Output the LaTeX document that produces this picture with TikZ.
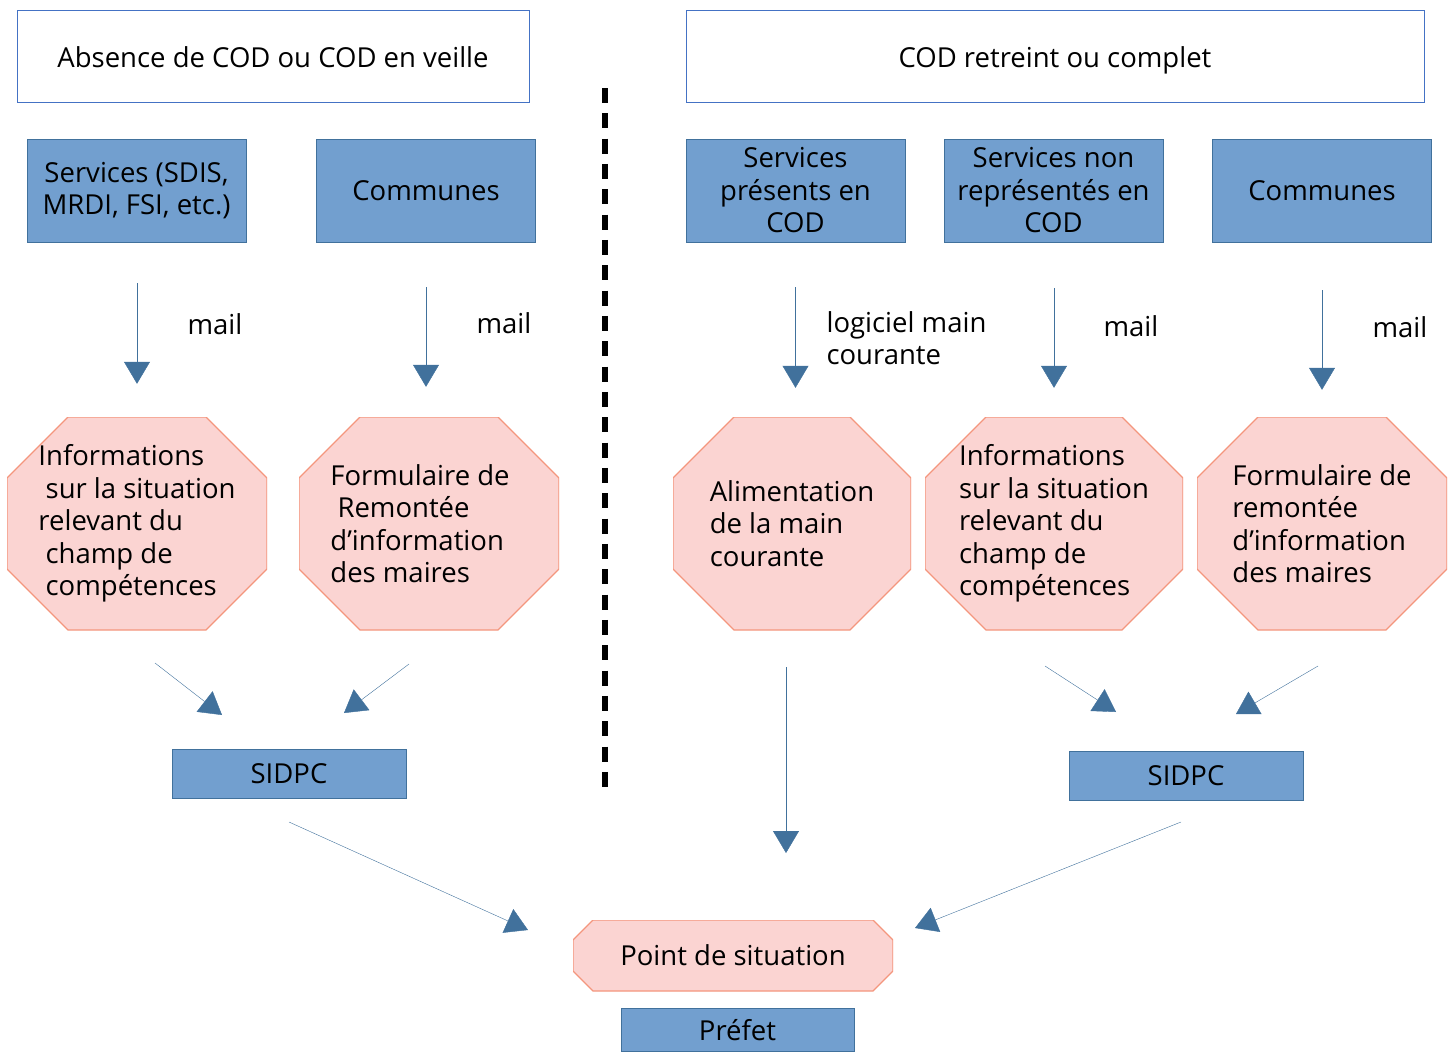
\documentclass[tikz,border=0pt]{standalone}
\usepackage{fontspec}
\setmainfont{Open Sans}
\usetikzlibrary{positioning,arrows.meta}
\definecolor{boxblue}{RGB}{114,159,207}
\definecolor{edgeblue}{RGB}{65,113,156}
\definecolor{topedge}{RGB}{68,114,196}
\definecolor{octofill}{RGB}{251,212,210}
\definecolor{octoedge}{RGB}{244,150,125}
\definecolor{arrowblue}{RGB}{65,113,156}

\begin{document}
\begin{tikzpicture}[x=1pt,y=-1pt,
  txt/.style={font=\fontsize{27.5}{32.5}\selectfont},
  topbox/.style={rectangle,draw=topedge,fill=white,txt,inner sep=0pt,minimum height=92pt,text height=24pt,text depth=2pt},
  box/.style={rectangle,draw=edgeblue,fill=boxblue,txt,align=center,inner sep=0pt,minimum width=219pt,minimum height=103pt},
  octocut/.store in=\octocut, octocut=61pt,
  octo/.style={rectangle,txt,align=left,inner sep=0pt,minimum height=213pt,
    path picture={\draw[draw=octoedge,fill=octofill,line width=1.2pt]
      ([xshift=\octocut]path picture bounding box.north west) -- ([xshift=-\octocut]path picture bounding box.north east)
      -- ([yshift=-\octocut]path picture bounding box.north east) -- ([yshift=\octocut]path picture bounding box.south east)
      -- ([xshift=-\octocut]path picture bounding box.south east) -- ([xshift=\octocut]path picture bounding box.south west)
      -- ([yshift=\octocut]path picture bounding box.south west) -- ([yshift=-\octocut]path picture bounding box.north west) -- cycle;}},
  flow/.style={draw=arrowblue,-{Triangle[width=26pt,length=22pt]}}]
	\useasboundingbox (0,0) rectangle (1453,1052);
	% en-tetes
	\node[topbox,minimum width=512pt] (absent) at (273,56) {Absence de COD ou COD en veille};
	\node[topbox,minimum width=738pt] (actif) at (1055,56) {COD retreint ou complet};
	% emetteurs
	\node[box] (srvA) at (136.5,190.5) {Services (SDIS,\\MRDI, FSI, etc.)};
	\node[box] (comA) at (426,190.5) {Communes};
	\node[box] (srvB) at (795.5,190.5) {Services\\présents en\\COD};
	\node[box] (srvC) at (1053.5,190.5) {Services non\\représentés en\\COD};
	\node[box] (comB) at (1322,190.5) {Communes};
	% informations
	\node[octo,minimum width=260pt] (infoA) at (137,523.5) {Informations\\\ sur la situation\\relevant du\\\ champ de\\\ compétences};
	\node[octo,minimum width=260pt] (formA) at (429,523.5) {Formulaire de\hspace*{18pt}\\\ Remontée\\d’information\\des maires};
	\node[octo,minimum width=238pt] (alim) at (792,523.5) {Alimentation\\de la main\\courante};
	\node[octo,minimum width=258pt] (infoB) at (1054,523.5) {Informations\\sur la situation\\relevant du\\champ de\\compétences};
	\node[octo,minimum width=250pt] (formB) at (1322,523.5) {Formulaire de\\remontée\\d’information\\des maires};
	% synthese
	\node[box,minimum width=234pt,minimum height=49pt] (sidpcA) at (289,773.5) {SIDPC};
	\node[box,minimum width=234pt,minimum height=49pt] (sidpcB) at (1186,775.5) {SIDPC};
	\node[octo,octocut=20pt,minimum width=320pt,minimum height=71pt] (point) at (733,955.5) {Point de situation};
	\node[box,minimum width=233pt,minimum height=43pt] (prefet) at (737.5,1030) {Préfet};
	% canaux
	\draw[flow,shorten <=41pt,shorten >=33pt] (srvA.south -| infoA.north) -- (infoA.north);
	\draw[flow,shorten <=45pt,shorten >=30pt] (comA.south) -- (comA.south |- formA.north);
	\draw[flow,shorten <=45pt,shorten >=29pt] (srvB.south) -- (srvB.south |- alim.north);
	\draw[flow,shorten <=46pt,shorten >=29pt] (srvC.south -| infoB.north) -- (infoB.north);
	\draw[flow,shorten <=48pt,shorten >=27pt] (comB.south) -- (formB.north);
	\node[txt,anchor=west] (mailA) at (184,324) {mail};
	\node[txt,anchor=west] (mailB) at (473,323) {mail};
	\node[txt,anchor=west,align=left] (logiciel) at (823,338) {logiciel main\\courante};
	\node[txt,anchor=west] (mailC) at (1100,326) {mail};
	\node[txt,anchor=west] (mailD) at (1369,327) {mail};
	% vers le SIDPC et le prefet
	\coordinate (d1) at (155,663); \coordinate (d2) at (222,715);
	\coordinate (d3) at (409,664); \coordinate (d4) at (344,713);
	\coordinate (d5) at (1045,666); \coordinate (d6) at (1116,712);
	\coordinate (d7) at (1318,666); \coordinate (d8) at (1236,714);
	\coordinate (d9) at (289,822); \coordinate (d10) at (528,930);
	\coordinate (d11) at (786,667); \coordinate (d12) at (786,853);
	\coordinate (d13) at (1181,822); \coordinate (d14) at (915,928);
	\draw[flow] (d1) -- (d2);
	\draw[flow] (d3) -- (d4);
	\draw[flow] (d5) -- (d6);
	\draw[flow] (d7) -- (d8);
	\draw[flow] (d9) -- (d10);
	\draw[flow] (d11) -- (d12);
	\draw[flow] (d13) -- (d14);
	% separation
	\draw[line width=6pt,dash pattern=on 15pt off 10.33pt] (605,88) -- (605,787);
\end{tikzpicture}
\end{document}
